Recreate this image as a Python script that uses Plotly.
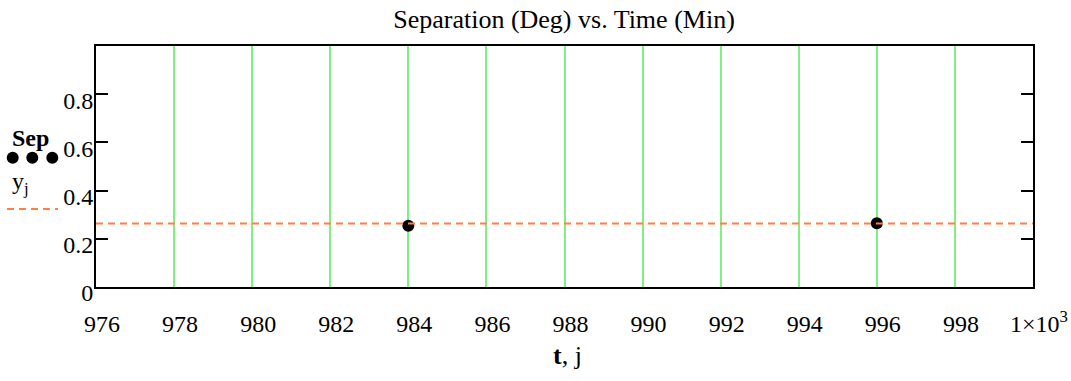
import plotly.graph_objects as go

# ---- data ----
t_sep = [984, 996]
sep_vals = [0.254, 0.265]
t_line = [976, 1000]
y_line = [0.264, 0.264]
x_tickvals = [976, 978, 980, 982, 984, 986, 988, 990, 992, 994, 996, 998, 1000]
x_ticktext = ["976", "978", "980", "982", "984", "986", "988", "990", "992", "994", "996", "998", "1×10<sup>3</sup>"]
y_tickvals = [0, 0.2, 0.4, 0.6, 0.8]
y_ticktext = ["0", "0.2", "0.4", "0.6", "0.8"]

W, H = 1071, 381
L, R, T, B = 96, 38, 46, 94
PW, PH = W - L - R, H - T - B


def px(x):
    return (x - L) / PW


def py(y):
    return (H - B - y) / PH


FONT = "Liberation Serif, Times New Roman, serif"
ORANGE = "#FF8040"
GREEN = "#80F080"

fig = go.Figure()
fig.add_trace(go.Scatter(
    x=t_sep, y=sep_vals, mode="markers",
    marker=dict(color="black", size=12), showlegend=False,
))
fig.add_trace(go.Scatter(
    x=t_line, y=y_line, mode="lines",
    line=dict(color=ORANGE, width=2, dash="7px,5px"), showlegend=False,
))

shapes = []
for cx in [12.7, 32.3, 52.3]:
    shapes.append(dict(type="circle", xref="paper", yref="paper",
                       xsizemode="pixel", ysizemode="pixel",
                       xanchor=px(cx), yanchor=py(157.7),
                       x0=-6, x1=6, y0=-6, y1=6,
                       fillcolor="black", line=dict(width=0)))
shapes.append(dict(type="line", xref="paper", yref="paper",
                   x0=px(7), x1=px(58), y0=py(209), y1=py(209),
                   line=dict(color=ORANGE, width=2, dash="7px,5px")))

annotations = [
    dict(text="<b>Sep</b>", xref="paper", yref="paper", x=px(10), y=py(138),
         xanchor="left", yanchor="middle", showarrow=False,
         font=dict(family=FONT, size=24, color="black")),
    dict(text="y<sub>j</sub>", xref="paper", yref="paper", x=px(10), y=py(183),
         xanchor="left", yanchor="middle", showarrow=False,
         font=dict(family=FONT, size=24, color="black")),
    dict(text="<b>t</b>, j", xref="paper", yref="paper", x=px(567), y=py(356),
         xanchor="center", yanchor="middle", showarrow=False,
         font=dict(family=FONT, size=26, color="black")),
]

fig.update_layout(
    width=W, height=H, autosize=False,
    margin=dict(l=L, r=R, t=T, b=B, autoexpand=False),
    paper_bgcolor="white", plot_bgcolor="white",
    font=dict(family=FONT, color="black"),
    title=dict(text="Separation (Deg) vs. Time (Min)", x=px(564), xref="paper",
               xanchor="center", y=1 - 19 / H, yref="container", yanchor="middle",
               font=dict(family=FONT, size=26, color="black")),
    shapes=shapes, annotations=annotations,
)
fig.update_xaxes(
    range=[976, 1000], tickvals=x_tickvals, ticktext=x_ticktext, automargin=False,
    showgrid=True, gridcolor=GREEN, gridwidth=2,
    showline=True, linecolor="black", linewidth=2, mirror=True,
    ticks="", zeroline=False, ticklabelshift=6, ticklabelstandoff=14,
    tickfont=dict(family=FONT, size=24, color="black"),
)
fig.update_yaxes(
    range=[0, 1.0], tickvals=y_tickvals, ticktext=y_ticktext, automargin=False,
    showgrid=False, showline=True, linecolor="black", linewidth=2, mirror="ticks",
    ticks="inside", ticklen=12, tickwidth=2, tickcolor="black", zeroline=False,
    ticklabelshift=6, ticklabelstandoff=-4,
    tickfont=dict(family=FONT, size=24, color="black"),
)

fig.write_html(
    "out.html",
    config={"displayModeBar": False, "responsive": False},
    post_script=(
        "document.body.style.margin='0';"
        "document.body.style.overflow='hidden';"
        "document.documentElement.style.overflow='hidden';"
    ),
)
